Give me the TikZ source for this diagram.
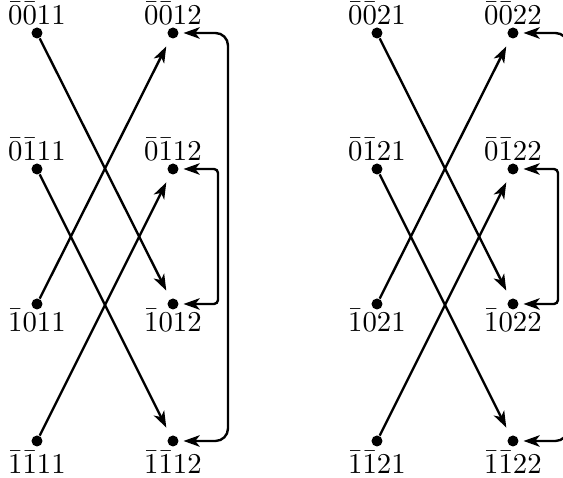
\RequirePackage{fix-cm}
\documentclass[tikz,border=0pt]{standalone}
\usetikzlibrary{arrows.meta}
\begin{document}
\begin{tikzpicture}[x=0.4pt,y=-0.4pt,
  dot/.style={circle,fill,inner sep=0pt,minimum size=4.4pt},
  tipk/.tip={Stealth[length=6.5pt,width=4.6pt,inset=1.8pt]},
  arr/.style={-tipk,line width=0.95pt,shorten >=3.6pt},
  lp/.style={tipk-tipk,line width=0.95pt,shorten >=1.8pt,shorten <=1.8pt},
  lab/.style={anchor=base,inner sep=0pt,font=\fontsize{11.5}{13}\selectfont}]
\useasboundingbox (0,0) rectangle (563,478);
\clip (0,0) rectangle (563,478);
% left group
\node[dot] (a1) at (37,33) {};
\node[dot] (a2) at (37,169) {};
\node[dot] (a3) at (37,304) {};
\node[dot] (a4) at (37,441) {};
\node[dot] (b1) at (173,33) {};
\node[dot] (b2) at (173,169) {};
\node[dot] (b3) at (173,304) {};
\node[dot] (b4) at (173,441) {};
\node[lab] (la1) at (37,25) {$\bar0\bar011$};
\node[lab] (la2) at (37,161) {$\bar0\bar111$};
\node[lab] (la3) at (37,332) {$\bar1011$};
\node[lab] (la4) at (37,474) {$\bar1\bar111$};
\node[lab] (lb1) at (173,25) {$\bar0\bar012$};
\node[lab] (lb2) at (173,161) {$\bar0\bar112$};
\node[lab] (lb3) at (173,332) {$\bar1012$};
\node[lab] (lb4) at (173,474) {$\bar1\bar112$};
\draw[arr] (a1) -- (b3);
\draw[arr] (a2) -- (b4);
\draw[arr] (a3) -- (b1);
\draw[arr] (a4) -- (b2);
\coordinate (ia) at (218,0);
\coordinate (oa) at (228,0);
\draw[lp,rounded corners=1.6pt] (b2) -- (b2 -| ia) -- (b3 -| ia) -- (b3);
\draw[lp,rounded corners=5pt] (b1) -- (b1 -| oa) -- (b4 -| oa) -- (b4);
% right group
\node[dot] (c1) at (377,33) {};
\node[dot] (c2) at (377,169) {};
\node[dot] (c3) at (377,304) {};
\node[dot] (c4) at (377,441) {};
\node[dot] (d1) at (513,33) {};
\node[dot] (d2) at (513,169) {};
\node[dot] (d3) at (513,304) {};
\node[dot] (d4) at (513,441) {};
\node[lab] (lc1) at (377,25) {$\bar0\bar021$};
\node[lab] (lc2) at (377,161) {$\bar0\bar121$};
\node[lab] (lc3) at (377,332) {$\bar1021$};
\node[lab] (lc4) at (377,474) {$\bar1\bar121$};
\node[lab] (ld1) at (513,25) {$\bar0\bar022$};
\node[lab] (ld2) at (513,161) {$\bar0\bar122$};
\node[lab] (ld3) at (513,332) {$\bar1022$};
\node[lab] (ld4) at (513,474) {$\bar1\bar122$};
\draw[arr] (c1) -- (d3);
\draw[arr] (c2) -- (d4);
\draw[arr] (c3) -- (d1);
\draw[arr] (c4) -- (d2);
\coordinate (ic) at (558,0);
\coordinate (oc) at (568,0);
\draw[lp,rounded corners=1.6pt] (d2) -- (d2 -| ic) -- (d3 -| ic) -- (d3);
\draw[lp,rounded corners=5pt] (d1) -- (d1 -| oc) -- (d4 -| oc) -- (d4);
\end{tikzpicture}
\end{document}
